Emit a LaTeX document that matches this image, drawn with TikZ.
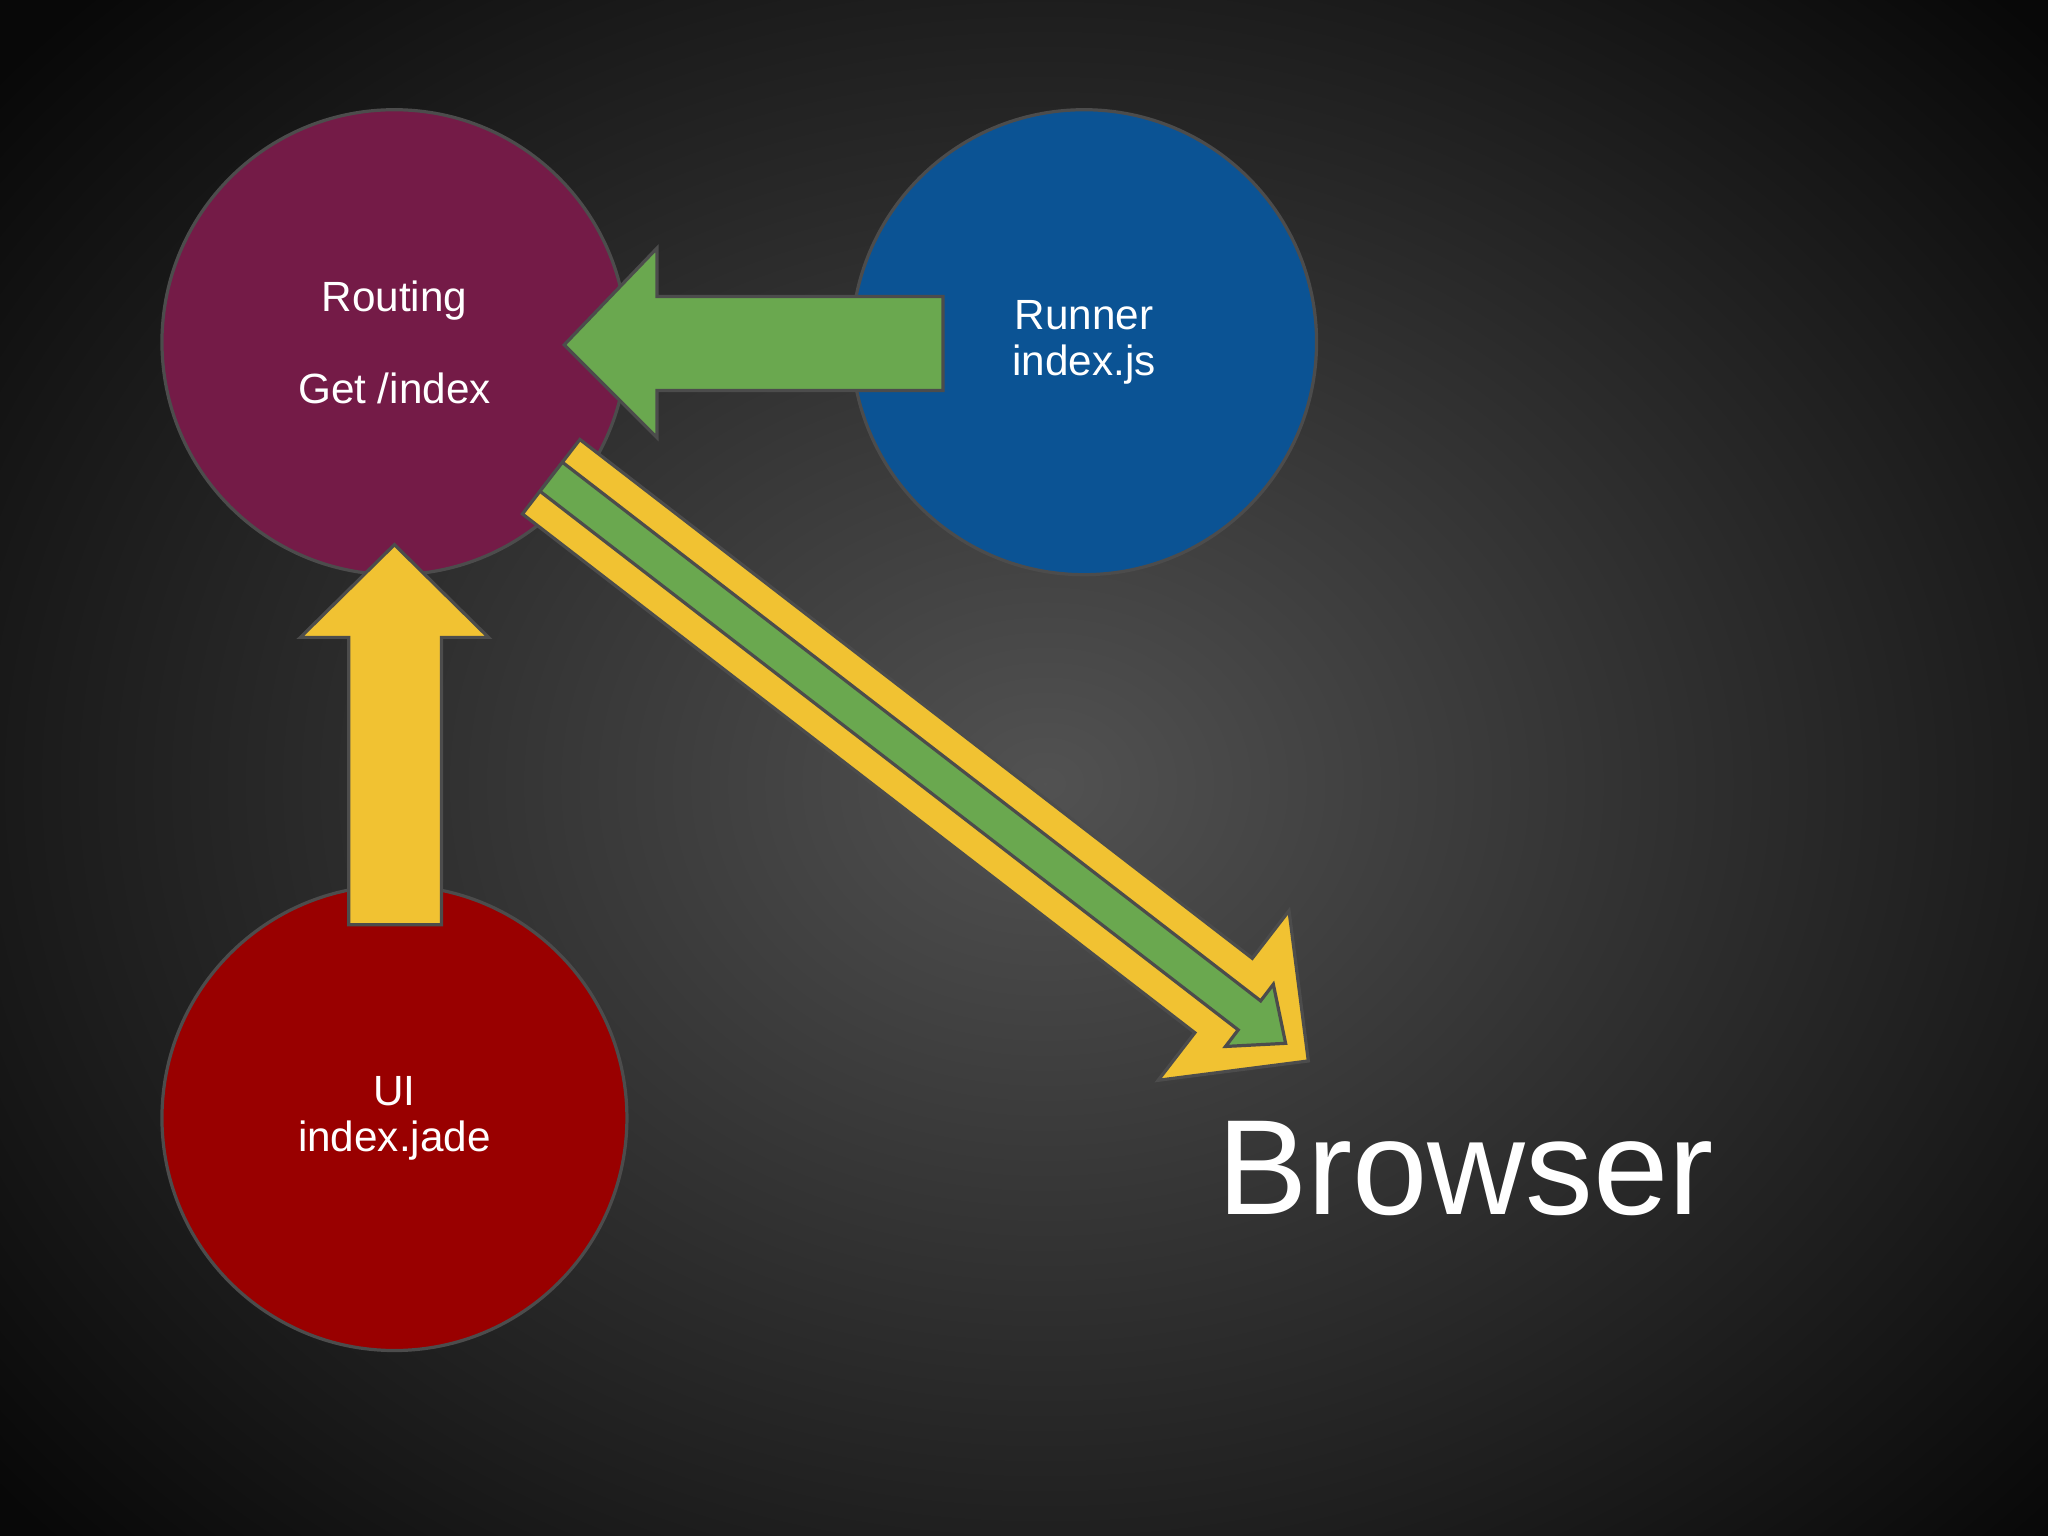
\documentclass[tikz,border=0pt]{standalone}
\usepackage{fontspec}
\setmainfont{Liberation Sans}
\begin{document}
\begin{tikzpicture}[x=0.01cm,y=-0.01cm,
  circ/.style={circle,draw=black!70,line width=0.7pt,minimum size=356*0.01cm,inner sep=0pt,text=white,align=center,font=\fontsize{9.2}{10}\selectfont},
  arr/.style={draw=black!70,line width=0.7pt,line join=miter}]
\definecolor{yelc}{HTML}{F1C232}
\definecolor{grnc}{HTML}{6AA84F}
\useasboundingbox (0,0) rectangle (1568,1176);
\shade[inner color=black!68!white,outer color=black!97] (-250,-250) rectangle (1850,1450);
\node[circ,fill={rgb,255:red,116;green,27;blue,71}] (routing) at (302,262) {Routing\\[10pt]Get /index};
\node[circ,fill={rgb,255:red,11;green,83;blue,148}] (runner) at (830,262) {Runner\\index.js};
\node[circ,fill={rgb,255:red,153;green,0;blue,0}] (ui) at (302,856) {UI\\index.jade};
\draw[arr,fill=grnc] (722,227) -- (503,227) -- (503,190) -- (432,264) -- (503,335) -- (503,299) -- (722,299) -- cycle;
\draw[arr,fill=yelc] (267,708) -- (267,488) -- (230,488) -- (302,417) -- (374,488) -- (338,488) -- (338,708) -- cycle;
\draw[arr,fill=yelc] (400,393.5) -- (914.8,790.7) -- (886.7,827.1) -- (1001.7,812.3) -- (986.9,697.3) -- (958.8,733.7) -- (444,336.5) -- cycle;
\draw[arr,fill=grnc] (413.4,376.1) -- (948.0,788.5) -- (938.3,801.2) -- (984.3,798.8) -- (974.9,753.6) -- (965.2,766.3) -- (430.6,353.9) -- cycle;
\node[text=white,font=\fontsize{29.5}{30}\selectfont,anchor=base] (browser) at (1122,930) {Browser};
\end{tikzpicture}
\end{document}
